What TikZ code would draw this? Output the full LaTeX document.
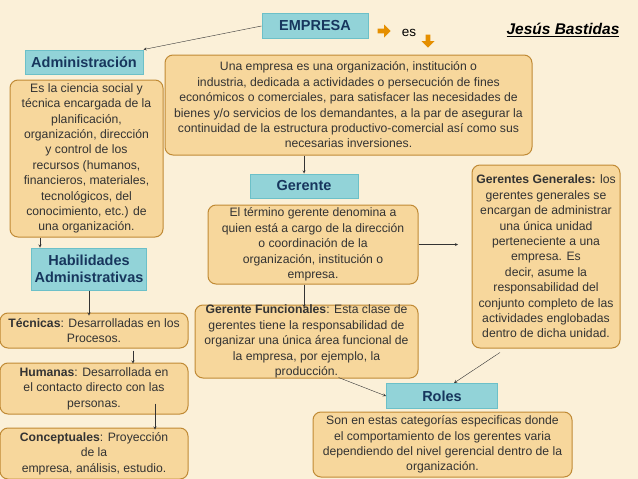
\documentclass[tikz,border=0pt]{standalone}
\usepackage{fontspec}
\setmainfont{Liberation Sans}
\usetikzlibrary{shapes.arrows}
\definecolor{fondo}{HTML}{FBF0D8}
\definecolor{caja}{HTML}{F7D79C}
\definecolor{borde}{HTML}{C08A35}
\definecolor{turq}{HTML}{92D3D8}
\definecolor{turqb}{HTML}{6CC0C8}
\definecolor{titulo}{HTML}{17365D}
\tikzset{
    titulobox/.style={draw=turqb, fill=turq, line width=1pt, font=\bfseries\fontsize{14.5}{17}\selectfont, text=titulo, align=center},
    textobox/.style={draw=borde, fill=caja, line width=1pt, rounded corners=8pt, font=\fontsize{12.2}{15.4}\selectfont, text=black!80, align=center, inner sep=0pt},
    flecha/.style={->, >=stealth, black!80, thin},
    bloque/.style={single arrow, fill=orange!75!yellow!90!black, draw=none, minimum height=13pt, minimum width=13pt, single arrow head extend=2pt, inner sep=1pt}
}
\begin{document}
\begin{tikzpicture}[x=1pt,y=-1pt]
    \fill[fondo] (0,0) rectangle (638,479);
    \useasboundingbox (0,0) rectangle (638,479);
    % Titulos
    \node[titulobox, minimum width=106pt, minimum height=25pt] (Empresa) at (315,26) {EMPRESA};
    \node[bloque] (Es-1) at (383,31) {};
    \node[font=\fontsize{13.5}{15}\selectfont] (Es) at (409,33) {es};
    \node[bloque, rotate=-90] (Es-2) at (428,40) {};
    \node[font=\bfseries\itshape\fontsize{15.5}{17}\selectfont] (Autor) at (563,30) {\underline{Jesús Bastidas}};
    \node[titulobox, minimum width=118pt, minimum height=24pt] (Admin) at (84,62) {Administración};
    \node[titulobox, minimum width=108pt, minimum height=24pt] (Gerente) at (304,186) {Gerente};
    \node[titulobox, minimum width=108pt, minimum height=42pt] (Habil) at (89,269) {Habilidades\\Administrativas};
    \node[titulobox, minimum width=111pt, minimum height=25pt] (Roles) at (442,396) {Roles};
    % Textos
    \node[textobox, minimum width=153pt, minimum height=157pt] (AdminTxt) at (86.5,158.5) {Es la ciencia social y\\técnica encargada de la\\planificación,\\organización, dirección\\y control de los\\recursos (humanos,\\financieros, materiales,\\tecnológicos, del\\conocimiento, etc.) de\\una organización.};
    \node[textobox, minimum width=367pt, minimum height=100pt] (EmpresaTxt) at (348.5,105) {Una empresa es una organización, institución o\\industria, dedicada a actividades o persecución de fines\\económicos o comerciales, para satisfacer las necesidades de\\bienes y/o servicios de los demandantes, a la par de asegurar la\\continuidad de la estructura productivo-comercial así como sus\\necesarias inversiones.};
    \node[textobox, minimum width=210pt, minimum height=79pt] (GerenteTxt) at (313,244.5) {El término gerente denomina a\\quien está a cargo de la dirección\\o coordinación de la\\organización, institución o\\empresa.};
    \node[textobox, minimum width=148pt, minimum height=183pt] (Generales) at (546,256.5) {\textbf{Gerentes Generales:} los\\gerentes generales se\\encargan de administrar\\una única unidad\\perteneciente a una\\empresa. Es\\decir, asume la\\responsabilidad del\\conjunto completo de las\\actividades englobadas\\dentro de dicha unidad.};
    \node[textobox, minimum width=223pt, minimum height=73pt] (Funcion) at (306.5,341.5) {\textbf{Gerente Funcionales}: Esta clase de\\gerentes tiene la responsabilidad de\\organizar una única área funcional de\\la empresa, por ejemplo, la\\producción.};
    \node[textobox, minimum width=188pt, minimum height=35pt] (Tecnicas) at (94,330.5) {\textbf{Técnicas}: Desarrolladas en los\\Procesos.};
    \node[textobox, minimum width=188pt, minimum height=51pt] (Humanas) at (94,388.5) {\textbf{Humanas}: Desarrollada en\\el contacto directo con las\\personas.};
    \node[textobox, minimum width=188pt, minimum height=51pt] (Concep) at (94,453.5) {\textbf{Conceptuales}: Proyección\\de la\\empresa, análisis, estudio.};
    \node[textobox, minimum width=259pt, minimum height=65pt] (RolesTxt) at (442.5,444.5) {Son en estas categorías especificas donde\\el comportamiento de los gerentes varia\\dependiendo del nivel gerencial dentro de la\\organización.};
    % Flechas
    \coordinate (Der) at (458,244.5);
    \draw[flecha] (Empresa.west) -- (Admin.north east);
    \draw[flecha] (EmpresaTxt.south -| Gerente.north) -- (Gerente.north);
    \draw[flecha] (AdminTxt.south -| 40,0) -- (Habil.north -| 40,0);
    \draw[flecha] (Habil.south) -- ([yshift=-3pt]Tecnicas.north -| Habil.south);
    \draw[flecha] ([yshift=-2pt]Tecnicas.south -| 133,0) -- ([yshift=-1pt]Humanas.north -| 133,0);
    \draw[flecha] ([yshift=11pt]Humanas.south -| 155,0) -- ([yshift=-2pt]Concep.north -| 155,0);
    \draw[flecha] (GerenteTxt.south -| 304,0) -- ([yshift=-3pt]Funcion.north -| 304,0);
    \draw[flecha] (GerenteTxt.east) -- (Der);
    \draw[flecha] ([shift={(-46pt,-4pt)}]Generales.south) -- ([xshift=12pt]Roles.north);
    \draw[flecha] ([shift={(-80pt,1pt)}]Funcion.south east) -- (Roles.west);
\end{tikzpicture}
\end{document}
